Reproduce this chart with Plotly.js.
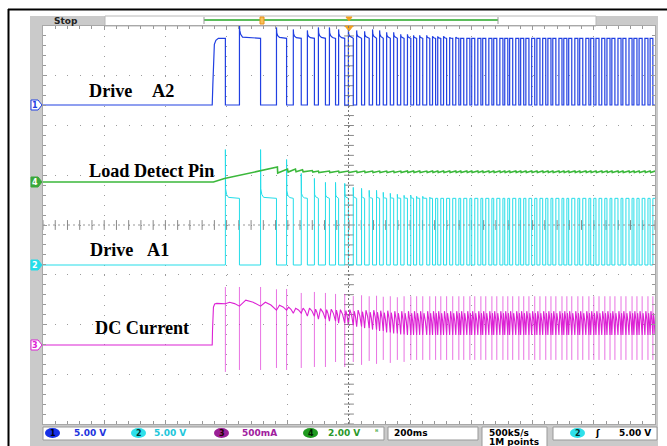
<!DOCTYPE html>
<html><head><meta charset="utf-8">
<script src="https://cdn.plot.ly/plotly-3.0.1.min.js"></script>
<style>html,body{margin:0;padding:0;background:#fff;overflow:hidden}#chart{width:667px;height:446px}</style>
</head><body><div id="chart"></div>
<script>
// ---------------- DATA (read from the screen capture) ----------------
// time base: 200 ms/div, 10 divisions, trigger at centre
const timeRange = [-1000, 1000];

// Channel 1 – Drive A2: rising-edge times (ms) and high times (ms)
const a2Rise = [-447,-358,-237,-182,-136,-100,-64,-34,-2,25,51,77,100,123,146,169,191,211,231,254,
  273,290,309,329,349,365,385,401,421,437,457,473,493,509,525,545,561,578,597,614,633,650,666,686,
  702,718,738,754,774,790,807,826,843,859,879,895,915,931,948,967,984];
const a2High = [43,69,33,26,23,23,20,20,16,16,15,13,12,12,12,11,11,10,10,10,10,10,10,10,10,10,10,10,
  10,10,10,10,10,10,10,10,10,10,10,10,10,10,10,10,10,10,10,10,10,10,10,10,10,10,10,10,10,10,10,10,9];
const a2Overshoot = [0,1.6,1.1,0.9,0.8,1.1,1.1,0.9,0.9,0.8,0.7,0.9,0.8,0.6,0.6,0.4,0.4,0.3,0.3,0.3,0.2,0.2,0.2,0.1,0.1]; // V
const a2HighLevel = 6.7; // V
const a2FirstEdgeT = [0,2,4,7,12,20];          // ms after first rise
const a2FirstEdgeV = [0,2.0,4.5,6.1,6.5,6.7];  // V

// Channel 2 – Drive A1 (complementary drive): peak voltage at each turn-on (V)
const a1Spike = [11.6,11.6,10.6,9.2,8.7,8.3,8.3,8.2,7.8,7.7,7.5,7.5,7.3,7.2,7.1,7.0,7.0,6.9,6.9,6.8];
const a1HighLevel = 6.7; // V

// Channel 4 – Load Detect Pin (V)
const ldTime = [-1000,-443,-407,-234,-233,-201,-199,-175,-173,-152,-150,-120,-118];
const ldVolt = [0,0,0.14,0.60,0.36,0.52,0.40,0.52,0.41,0.49,0.41,0.46,0.40];
const ldRippleHigh = 0.44, ldRippleLow = 0.38;

// Channel 3 – DC Current (mA)
const iFirstEdgeT = [0,1,4,8,15];
const iFirstEdgeV = [0,150,380,412,418];
const iFallSpikeUp = [583,583,563,523,533,523,513,513,492,500,490,495,485,490,480,490];
const iFallSpikeDn = [-271,-251,-251,-231,-221,-221,-171,-221,-171,-200,-160,-190,-150,-180,-150,-170];
const iRiseSpikeUp = [0,583,560];
const iRiseSpikeDn = [0,-251,-231];
const iValley   = [415,390,350,320,290,260,240,220,200,185,170,155,140,125,115,105];
const iPeakHigh = [415,450,400,370,370,365,360,355,355,350,350,350,345,345,340,340];
const iPeakLow  = [430,430,380,370,360,355,350,345,340,335,330,330,325,325,320,320];
const iSteadySpikeUp = 490, iSteadySpikeDn = -150, iSteadyValley = 100, iSteadyPeakHigh = 340, iSteadyPeakLow = 320;

// edge decay templates (ms after edge, fraction of excursion)
const edgeDecay = [[1,0.5],[4,0.25],[10,0.08]];
const spikeDecay = [[0.7,0.2],[4,0.08],[10,0.02]];

// ---------------- display settings ----------------
const chOffset = {c1: 2.412, c2: -0.804, c3: -2.412, c4: 0.864}; // divisions from centre
const chScale  = {c1: 5, c2: 5, c3: 500, c4: 2};                  // units per division
const col = {c1:'#2140e2', c2:'#25dde9', c3:'#dc22d4', c4:'#3bb83b'};

const T1 = timeRange[1];
function S(){ return {t:[], v:[]}; }
function add(s,t,v){ s.t.push(t); s.v.push(v); }
const N = a2Rise.length;

// ---- Drive A2 ----
const a2 = S();
add(a2, timeRange[0], 0);
for (let i=0;i<N;i++){
  const r=a2Rise[i], f=r+a2High[i];
  if(i===0){ a2FirstEdgeT.forEach((dt,k)=>add(a2, r+dt, a2FirstEdgeV[k])); }
  else {
    add(a2, r, 0);
    const os = a2Overshoot[i]||0;
    add(a2, r, a2HighLevel+os);
    if(os>0) edgeDecay.forEach(([dt,fr])=>{ if(r+dt<f) add(a2, r+dt, a2HighLevel+os*fr); });
  }
  add(a2, Math.min(f,T1), a2HighLevel);
  if(f<T1) add(a2, f, 0);
}
if (a2.t[a2.t.length-1] < T1) add(a2, T1, 0);

// ---- Drive A1 ----
const a1 = S();
add(a1, timeRange[0], 0);
for (let i=0;i<N;i++){
  const f=a2Rise[i]+a2High[i];
  const nr = i+1<N ? a2Rise[i+1] : T1;
  if(f>=T1) break;
  add(a1, f, 0);
  const sp = i<a1Spike.length ? a1Spike[i] : a1HighLevel;
  add(a1, f, sp);
  if(sp>a1HighLevel) spikeDecay.forEach(([dt,fr])=>{ if(f+dt<nr) add(a1, f+dt, a1HighLevel+(sp-a1HighLevel)*fr); });
  add(a1, nr, a1HighLevel);
  if(nr<T1) add(a1, nr, 0);
}

// ---- Load detect ----
const ld = S();
ldTime.forEach((t,k)=>add(ld,t,ldVolt[k]));
for (let i=0;i<N;i++){
  const r=a2Rise[i];
  if(r<=ldTime[ldTime.length-1]) continue;
  add(ld, r, ldRippleHigh); add(ld, r+1.5, ldRippleLow);
}
add(ld, T1, ldRippleHigh);

// ---- DC current: body + switching spikes ----
const pick=(arr,i,d)=> i<arr.length ? arr[i] : d;
const cur = S(), sp = S();
add(cur, timeRange[0], 0);
function hump(s, t0, t1, pk, v1){
  const L=t1-t0;
  add(s, t0+0.3*L, pk);
  add(s, t0+0.65*L, (pk+v1)/2 + (pk-v1)*0.15);
  add(s, t1, v1);
}
function spike(t, up, dn){ add(sp,t,up); add(sp,t,dn); add(sp,t,null); }
for (let i=0;i<N;i++){
  const r=a2Rise[i], f=r+a2High[i];
  const nr = i+1<N ? a2Rise[i+1] : T1;
  const val = pick(iValley,i,iSteadyValley);
  const valNext = pick(iValley,i+1,iSteadyValley);
  if(i===0){
    iFirstEdgeT.forEach((dt,k)=>add(cur, r+dt, iFirstEdgeV[k]));
    add(cur, f, pick(iPeakHigh,0,iSteadyPeakHigh));
  } else {
    const ru = pick(iRiseSpikeUp,i,0);
    if(ru) spike(r, ru, pick(iRiseSpikeDn,i,0));
    hump(cur, r, Math.min(f,T1), pick(iPeakHigh,i,iSteadyPeakHigh), val);
  }
  if(f>=T1) break;
  spike(f, pick(iFallSpikeUp,i,iSteadySpikeUp), pick(iFallSpikeDn,i,iSteadySpikeDn));
  add(cur, f, val);
  hump(cur, f, nr, pick(iPeakLow,i,iSteadyPeakLow), valNext);
}

function trace(s, ch, w, opacity){
  return {type:'scatter', mode:'lines', x:s.t, y:s.v.map(v=>v===null?null:chOffset[ch]+v/chScale[ch]),
    line:{color:col[ch], width:w, shape:'linear'}, opacity:opacity||1, connectgaps:false,
    hoverinfo:'skip', showlegend:false};
}

// graticule centre ticks
const cx=[], cy=[], hx=[], hy=[];
for(let k=0;k<=40;k++){ cx.push(0); cy.push(-4+k*0.2); }
for(let k=0;k<=50;k++){ hx.push(-1000+k*40); hy.push(0); }
const tickTraces = [
  {type:'scatter', mode:'markers', x:cx, y:cy, marker:{symbol:'line-ew', size:7, line:{color:'#888', width:1}}, hoverinfo:'skip', showlegend:false},
  {type:'scatter', mode:'markers', x:hx, y:hy, marker:{symbol:'line-ns', size:7, line:{color:'#888', width:1}}, hoverinfo:'skip', showlegend:false}
];

const data = [...tickTraces, trace(sp,'c3',0.9,0.7), trace(cur,'c3',1.1), trace(a1,'c2',1), trace(ld,'c4',1.6), trace(a2,'c1',1.2)];

// ---------------- chrome (pixel helpers) ----------------
const L=43, R=655, TOP=26, BOT=424;
const px = x => (x-L)/(R-L), py = y => (BOT-y)/(BOT-TOP);
const shapes = [];
function rect(x0,y0,x1,y1,fill,line,lw,layer){
  shapes.push({type:'rect', xref:'paper', yref:'paper', x0:px(x0), x1:px(x1), y0:py(y1), y1:py(y0),
    fillcolor:fill, line:{color:line||fill, width:lw===undefined?0:lw}, layer:layer||'below'});
}
function seg(x0,y0,x1,y1,color,w,dash,layer){
  shapes.push({type:'line', xref:'paper', yref:'paper', x0:px(x0), x1:px(x1), y0:py(y0), y1:py(y1),
    line:{color, width:w, dash:dash||'solid'}, layer:layer||'above'});
}
function path(pts,fill,line,lw){
  const d = pts.map((p,k)=>(k?'L':'M')+px(p[0])+','+py(p[1])).join(' ')+' Z';
  shapes.push({type:'path', xref:'paper', yref:'paper', path:d, fillcolor:fill, line:{color:line, width:lw}, layer:'above'});
}
function oval(x0,y0,x1,y1,fill){
  shapes.push({type:'circle', xref:'paper', yref:'paper', x0:px(x0), x1:px(x1), y0:py(y1), y1:py(y0),
    fillcolor:fill, line:{color:fill, width:0}, layer:'above'});
}
const ann = [];
function txt(x,y,s,o){
  o=o||{};
  ann.push({xref:'paper', yref:'paper', x:px(x), y:py(y), text:s, showarrow:false,
    xanchor:o.anchor||'left', yanchor:'middle',
    font:{family:o.family||'DejaVu Sans, sans-serif', size:o.size||9, color:o.color||'#000'}});
}

// panels
rect(30,16,43,446,'#cacaca');
rect(30,424,658,446,'#cacaca');
rect(655,16,658,446,'#cacaca');
rect(30,16,105,26,'#cacaca');
rect(596,16,658,26,'#cacaca');
rect(105,16,596,26,'#ffffff','#b8b8b8',1);
// outer frame
seg(8,9.5,667,9.5,'#000',2);
seg(8.5,9,8.5,446,'#000',2);
// top bar items
seg(204,20,498,20,'#5cbd5c',2);
seg(204,17,204,24,'#999',1); seg(498,17,498,24,'#999',1);
rect(260,17,264,24,'#f7c257','#e8901a',1,'above');
path([[346,17],[352,17],[349,21]],'#f0a020','#f0a020',1);
path([[345,26],[353,26],[349,31]],'#f0a020','#f0a020',1);
txt(52,21,'<b>Stop</b>',{size:9,color:'#222'});
// centre cross lines
seg(348.5,26,348.5,424,'#777',1,'2px,2px');
seg(43,225,655,225,'#999',1,'2px,3px');

// channel flags on left
path([[31,100],[38,100],[42,105],[38,110],[31,110]],'#ffffff',col.c1,1);
path([[31,177],[38,177],[42,182],[38,187],[31,187]],'#3aa83a','#3aa83a',1);
path([[31,260],[38,260],[42,265],[38,270],[31,270]],col.c2,col.c2,1);
path([[31,340],[38,340],[42,345],[38,350],[31,350]],'#ffffff',col.c3,1);
txt(35,105,'<b>1</b>',{anchor:'center',size:8,color:col.c1});
txt(35,182,'<b>4</b>',{anchor:'center',size:8,color:'#fff'});
txt(35,265,'<b>2</b>',{anchor:'center',size:8,color:'#fff'});
txt(35,345,'<b>3</b>',{anchor:'center',size:8,color:col.c3});

// bottom status bar
rect(43,427,384,440,'#ffffff','#999',1,'above');
rect(388,427,478,440,'#ffffff','#999',1,'above');
rect(482,427,547,448,'#ffffff','#999',1,'above');
rect(553,427,657,440,'#ffffff','#999',1,'above');
oval(45,428,60,438,'#1530e6'); txt(52.5,433,'<b>1</b>',{anchor:'center',size:8,color:'#001'});
txt(72,433,'<b>5.00 V</b>',{color:'#2233dd'});
oval(131,428,146,438,'#2ee0ea'); txt(138.5,433,'<b>2</b>',{anchor:'center',size:8,color:'#033'});
txt(152,433,'<b>5.00 V</b>',{color:'#22c6da'});
oval(214,428,229,438,'#9a1f96'); txt(221.5,433,'<b>3</b>',{anchor:'center',size:8,color:'#200'});
txt(240,433,'<b>500mA</b>',{color:'#a0209e'});
oval(303,428,318,438,'#1f9a1f'); txt(310.5,433,'<b>4</b>',{anchor:'center',size:8,color:'#020'});
txt(326,433,'<b>2.00 V</b>',{color:'#2a982a'});
txt(377,432,'ᴮ',{anchor:'center',size:8,color:'#2a982a'});
txt(392,433,'<b>200ms</b>');
txt(487,432.5,'<b>500kS/s</b>');
txt(487,442,'<b>1M points</b>');
oval(570,428,585,438,'#2ee0ea'); txt(577.5,433,'<b>2</b>',{anchor:'center',size:8,color:'#033'});
txt(597,433,'<b>ʃ</b>',{anchor:'center',size:9});
txt(653,433,'<b>5.00 V</b>',{anchor:'right'});

// channel labels
const serif = 'Liberation Serif, Times New Roman, serif';
const fs = 18.2;
txt(87,91,'<b>Drive</b>',{family:serif,size:fs});
txt(150,91,'<b>A2</b>',{family:serif,size:fs});
txt(87,171,'<b>Load Detect Pin</b>',{family:serif,size:fs});
txt(88,249.5,'<b>Drive</b>',{family:serif,size:fs});
txt(145,249.5,'<b>A1</b>',{family:serif,size:fs});
txt(93,328,'<b>DC Current</b>',{family:serif,size:fs});

const axisCommon = {showticklabels:false, zeroline:false, showline:true, linecolor:'#a8a8a8', linewidth:1,
  mirror:'ticks', ticks:'inside', tickcolor:'#999', ticklen:4, fixedrange:true, gridcolor:'#9c9c9c', gridwidth:1};

const layout = {
  width:667, height:446, margin:{l:L, r:667-R, t:TOP, b:446-BOT}, paper_bgcolor:'#fff', plot_bgcolor:'#fff',
  showlegend:false, hovermode:false,
  xaxis:Object.assign({}, axisCommon, {range:timeRange, tick0:-1000, dtick:200, griddash:'1px,8.95px',
    minor:{ticks:'inside', ticklen:3, tickcolor:'#999', dtick:40, tick0:-1000, showgrid:false}}),
  yaxis:Object.assign({}, axisCommon, {range:[-4,4], tick0:-4, dtick:1, griddash:'1px,11.24px',
    minor:{ticks:'inside', ticklen:3, tickcolor:'#999', dtick:0.2, tick0:-4, showgrid:false}}),
  shapes, annotations:ann
};
Plotly.newPlot('chart', data, layout, {staticPlot:true, displayModeBar:false});
</script></body></html>
